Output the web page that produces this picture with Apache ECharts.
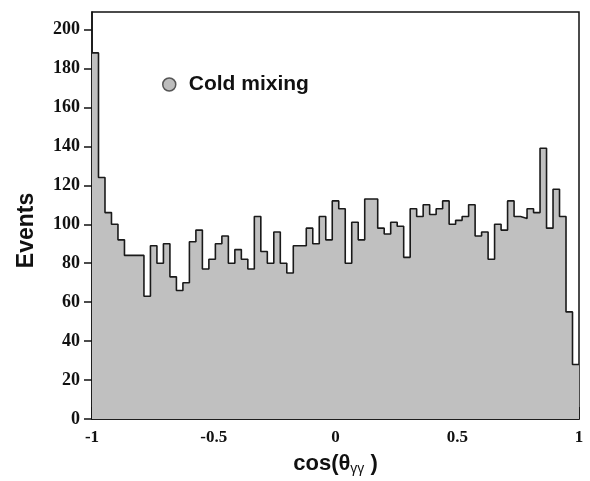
<!DOCTYPE html>
<html>
<head>
<meta charset="utf-8">
<script src="https://cdn.jsdelivr.net/npm/echarts@6/dist/echarts.min.js"></script>
<style>
  html, body { margin: 0; padding: 0; background: #fff; }
  #chart { width: 590px; height: 481px; }
</style>
</head>
<body>
<div id="chart"></div>
<script>
// histogram binning of cos(theta_gg), -1..1
const binCount = 75
const xRange = [-1, 1]
const seriesName = 'Cold mixing'
// events per bin, left to right
const events = [
  188, 124, 106, 100, 92, 84, 84, 84, 63, 89,
  80, 90, 73, 66, 70, 91, 97, 77, 82, 90,
  94, 80, 87, 82, 77, 104, 86, 80, 96, 80,
  75, 89, 89, 98, 90, 104, 92, 112, 108, 80,
  101, 92, 113, 113, 98, 95, 101, 99, 83, 108,
  104, 110, 105, 108, 112, 100, 102, 104, 110, 94,
  96, 82, 100, 97, 112, 104, 103, 108, 106, 139,
  98, 118, 104, 55, 28
]
const yTicks = [0, 20, 40, 60, 80, 100, 120, 140, 160, 180, 200]
const xTicks = [-1, -0.5, 0, 0.5, 1]

const serif = '"Liberation Serif", "Times New Roman", serif'
const sans = '"Liberation Sans", Arial, sans-serif'

// left edge of each bin, plus the closing right edge
const binWidth = (xRange[1] - xRange[0]) / binCount
const stepData = events.map((v, i) => [xRange[0] + i * binWidth, v])
stepData.push([xRange[1], events[events.length - 1]])

const chart = echarts.init(document.getElementById('chart'))
chart.setOption({
  animation: false,
  grid: {
    left: 92, right: 11, top: 12, bottom: 62,
    show: true,
    borderColor: '#111',
    borderWidth: 1.5
  },
  legend: {
    left: 157, top: 69,
    itemWidth: 13, itemHeight: 13,
    data: [{
      name: seriesName,
      icon: 'circle',
      itemStyle: { color: '#bdbdbd', borderColor: '#555', borderWidth: 1.5 }
    }],
    textStyle: {
      fontFamily: sans, fontWeight: 'bold', fontSize: 21, color: '#111',
      padding: [0, 0, 0, 8]
    }
  },
  xAxis: {
    type: 'value',
    min: xRange[0], max: xRange[1], interval: 0.5,
    name: '{a|cos(θ}{s|γγ}{a| )}',
    nameLocation: 'middle',
    nameGap: 33,
    nameTextStyle: {
      rich: {
        a: { fontFamily: sans, fontWeight: 'bold', fontSize: 22, color: '#111' },
        s: { fontFamily: sans, fontSize: 14, color: '#111', padding: [10, 0, 0, 0] }
      }
    },
    axisLine: { show: true, lineStyle: { color: '#111', width: 1.5 } },
    axisTick: { show: true, inside: true, length: 12, lineStyle: { color: '#111', width: 1.5 } },
    minorTick: { show: true, splitNumber: 2, length: 7, lineStyle: { color: '#111', width: 1.5 } },
    splitLine: { show: false },
    axisLabel: {
      customValues: xTicks,
      margin: 10,
      fontFamily: serif, fontWeight: 'bold', fontSize: 17, color: '#111'
    }
  },
  yAxis: {
    type: 'value',
    min: 0, max: 209, interval: 20,
    name: 'Events',
    nameLocation: 'middle',
    nameRotate: 90,
    nameGap: 54,
    nameTextStyle: {
      fontFamily: sans, fontWeight: 'bold', fontSize: 23, color: '#111',
      padding: [0, 30, 0, 0]
    },
    axisLine: { show: true, onZero: false, lineStyle: { color: '#111', width: 1.5 } },
    axisTick: { show: true, customValues: yTicks, length: 8, lineStyle: { color: '#111', width: 1.5 } },
    splitLine: { show: false },
    axisLabel: {
      customValues: yTicks,
      margin: 12,
      fontFamily: serif, fontWeight: 'bold', fontSize: 18, color: '#111'
    }
  },
  series: [{
    name: seriesName,
    type: 'line',
    step: 'end',
    symbol: 'none',
    data: stepData,
    lineStyle: { color: '#1a1a1a', width: 1.6 },
    areaStyle: { color: '#c0c0c0', opacity: 1 },
    itemStyle: { color: '#bdbdbd' }
  }]
})
</script>
</body>
</html>
